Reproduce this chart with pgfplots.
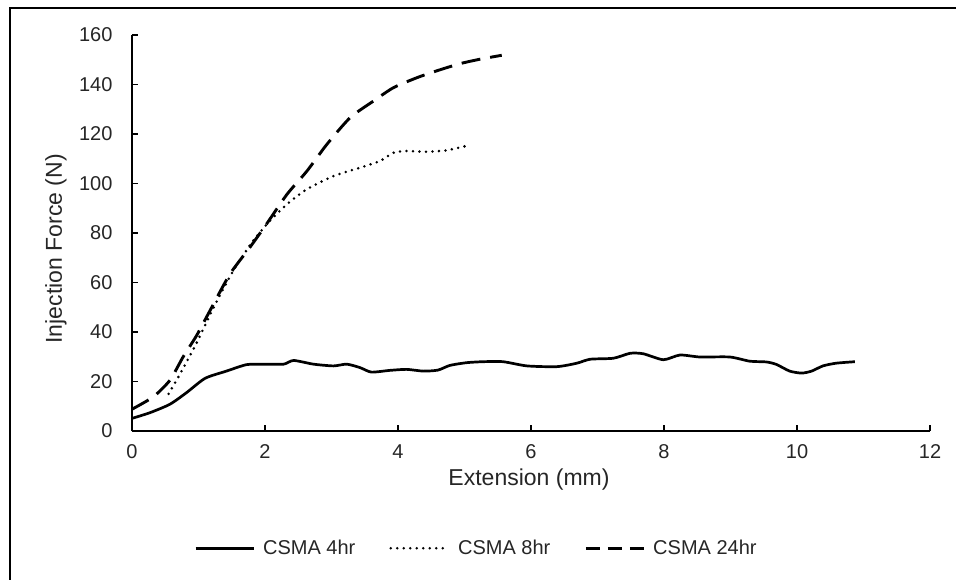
\documentclass[border=0pt]{standalone}
\usepackage{fontspec}
\setmainfont{Liberation Sans}
\usepackage{pgfplots}
\pgfplotsset{compat=1.18}
\begin{document}
\begin{tikzpicture}
\useasboundingbox (-132bp,-149bp) rectangle (824bp,431bp);
\draw[line width=2.2bp, black] (-122bp,-160bp) -- (-122bp,423bp) -- (840bp,423bp);
\begin{axis}[
  at={(0,0)}, anchor=south west,
  scale only axis, width=798bp, height=396bp,
  xmin=0, xmax=12, ymin=0, ymax=160,
  xtick={0,2,...,12}, ytick={0,20,...,160},
  axis lines=left, axis line style={-, line width=1.8bp, black},
  tick align=inside, major tick length=6bp,
  tick style={black, line width=1.5bp},
  /pgf/number format/assume math mode=true,
  tick label style={font=\fontsize{20bp}{24bp}\selectfont, text=black!85},
  yticklabel style={xshift=-16bp},
  xticklabel style={yshift=-10bp},
  xlabel={Extension (mm)}, ylabel={Injection Force (N)},
  label style={font=\fontsize{23bp}{27bp}\selectfont, text=black!85},
  x label style={at={(axis description cs:0.4975,-0.122)}, anchor=center},
  y label style={at={(axis description cs:-0.0952,0.46)}, anchor=center},
  legend columns=3,
  legend style={at={(axis description cs:0.4317,-0.296)}, anchor=center, draw=none, fill=none,
    font=\fontsize{20bp}{24bp}\selectfont, text=black!85,
    /tikz/every even column/.append style={column sep=32bp}},
  legend image code/.code={\draw[#1] (0bp,0bp) -- (58bp,0bp); \path (64bp,0bp);},
]
\addplot[black, line width=2.7bp, smooth, tension=0.4] coordinates {
(0,5.1) (0.27,7.4) (0.57,10.8) (0.82,15.5) (1.1,21.3) (1.42,24.2) (1.72,26.8) (1.97,27) (2.28,27) (2.43,28.5) (2.73,27) (3.03,26.3) (3.23,27) (3.43,25.6) (3.6,23.8) (3.88,24.5) (4.13,24.9) (4.38,24.2) (4.6,24.6) (4.78,26.5) (5.03,27.6) (5.28,28) (5.58,28) (5.94,26.3) (6.39,26) (6.69,27.4) (6.89,29) (7.24,29.4) (7.49,31.4) (7.69,31.2) (7.99,28.8) (8.24,30.7) (8.54,29.9) (8.99,29.9) (9.29,28.2) (9.54,27.9) (9.69,26.9) (9.89,24.2) (10.07,23.4) (10.22,24.2) (10.39,26.3) (10.59,27.4) (10.87,28)
};
\addlegendentry{CSMA 4hr}
\addplot[black, line width=2.8bp, line cap=round, dash pattern=on 0bp off 6.5bp, smooth, tension=0.4] coordinates {
(0.55,15) (0.72,22.9) (0.97,35.5) (1.22,49.5) (1.52,64.6) (1.82,76.8) (2.07,84.8) (2.33,91.6) (2.63,97.7) (3.03,103) (3.43,106.4) (3.73,109.1) (3.93,112.4) (4.13,113.1) (4.43,112.8) (4.73,113.4) (5.03,115.2)
};
\addlegendentry{CSMA 8hr}
\addplot[black, line width=2.9bp, dash pattern=on 19bp off 10bp, smooth, tension=0.4,
  legend image post style={dash pattern=on 14bp off 8bp}] coordinates {
(0,8.8) (0.32,13.8) (0.57,20.5) (0.77,30) (0.97,38.5) (1.17,48.5) (1.47,63.3) (1.77,74.1) (2.02,83.5) (2.33,95.6) (2.63,105) (2.93,115.8) (3.28,126.6) (3.63,133.3) (3.93,138.7) (4.28,142.7) (4.58,145.5) (4.93,148.4) (5.23,150.2) (5.56,151.8)
};
\addlegendentry{CSMA 24hr}
\end{axis}
\end{tikzpicture}
\end{document}
